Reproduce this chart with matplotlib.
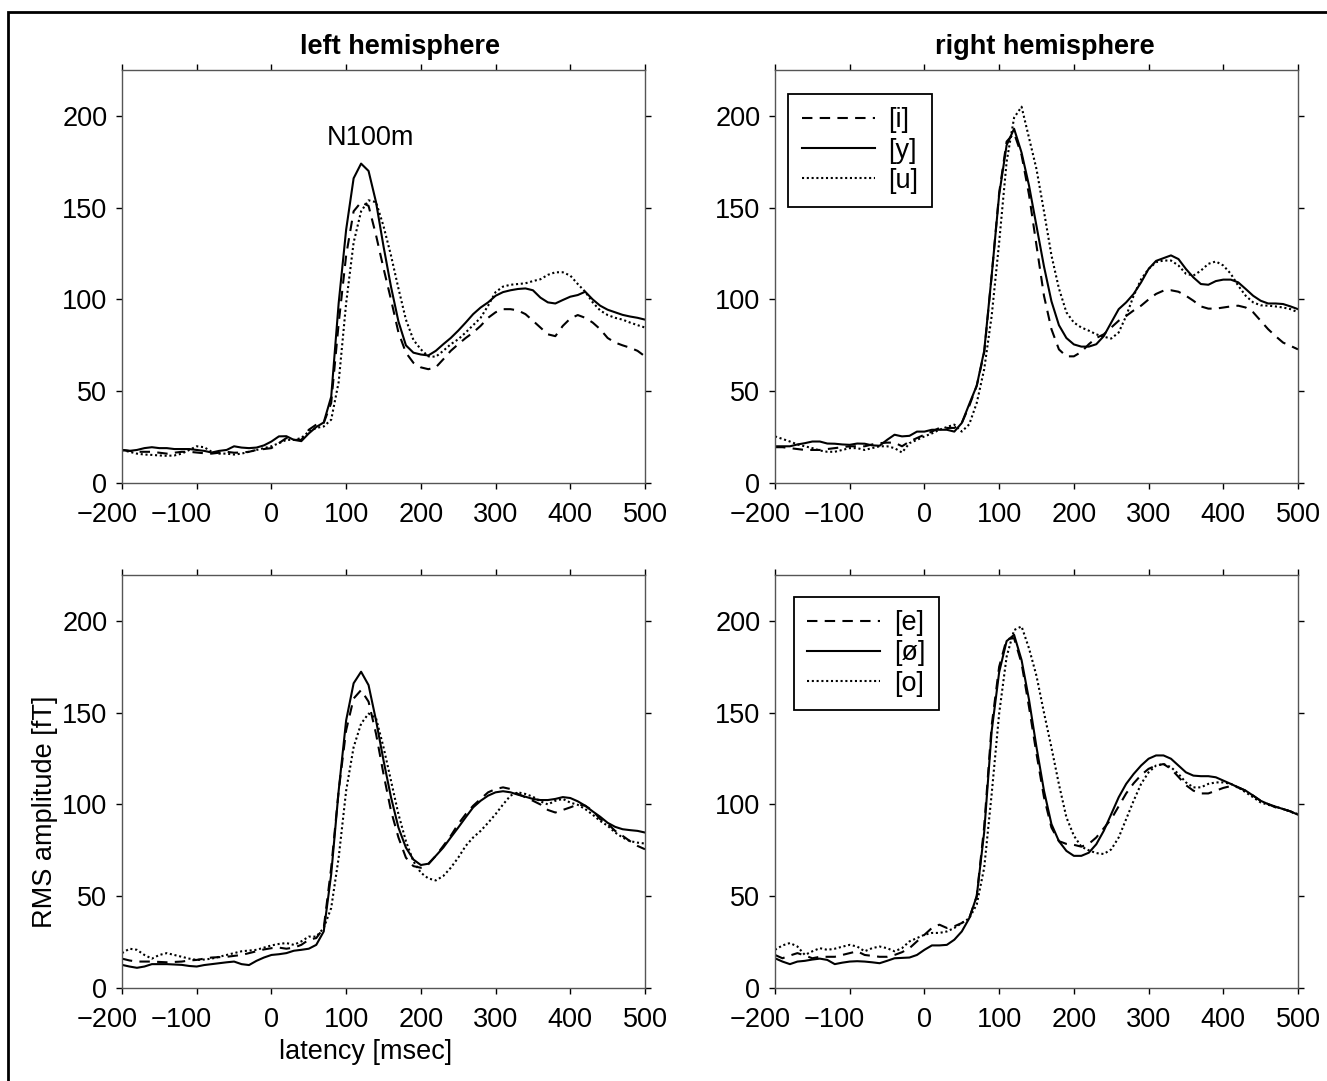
import numpy as np
import matplotlib
matplotlib.use('Agg')
import matplotlib.pyplot as plt
from matplotlib.patches import Rectangle
from matplotlib.transforms import ScaledTranslation

plt.rcParams['font.family'] = ['Liberation Sans', 'DejaVu Sans']

# latency grid (ms)
latency = np.arange(-200, 501, 10)

# ---- top row: [i] [y] [u] ----
lh_i = [18, 17.5, 17, 17, 17, 16.5, 16, 16.5, 17, 17,
        16.6, 16.2, 16, 16.5, 17, 16.5, 16.6, 17, 18, 18.5,
        19, 21.7, 24.5, 23.5, 23.5, 29, 31.8, 32.7, 43.6, 87,
        124, 148, 153, 151, 135, 117, 100, 82, 71, 65.5,
        63, 62, 63, 67.4, 72, 75.6, 79, 82, 85.6, 90,
        93, 94.7, 94.7, 94, 92, 88.4, 84.7, 81, 80, 85.6,
        89.6, 91.5, 90, 87.4, 83.8, 79, 76.5, 75, 73.7, 72,
        69]
lh_y = [18, 17.5, 18, 19, 19.5, 19, 19, 18.5, 18.5, 18.5,
        18, 17.5, 16.6, 17.5, 18, 20, 19.3, 19, 19.3, 20.5,
        22.6, 25.4, 25.5, 23.5, 22.8, 27, 30.5, 33, 47, 98,
        138, 166, 174, 170, 153, 129, 107, 88, 75, 71,
        70, 69.5, 72, 75.6, 79, 83, 87.4, 92, 95.6, 98.4,
        102, 104, 105, 105.7, 106, 105, 101, 98.4, 97.8, 99.7,
        101.5, 102.4, 104.2, 100, 96.6, 94.4, 93, 91.6, 90.7, 90,
        89]
lh_u = [18, 17, 16, 15.5, 15.3, 15, 14.8, 15, 16, 18,
        20, 19.5, 17, 16, 16, 15.5, 16, 17, 18, 19,
        20, 21.7, 23.5, 23.5, 24.5, 28, 30, 30.8, 34.5, 55,
        98, 131, 148, 154, 153, 140, 124, 106, 89, 78,
        72.8, 69, 68.8, 72, 75.6, 78.3, 82, 86, 90, 96.6,
        104, 107, 108, 108.4, 108.8, 110, 111, 113.4, 114.8, 114.8,
        113, 108.4, 104.2, 98.4, 94, 91.5, 90, 89, 87.4, 86,
        84.7]

rh_i = [19.5, 19.5, 19, 18.5, 18, 18, 18, 18.5, 19, 19.5,
        20, 20, 20, 21, 21.7, 22, 22, 20, 22.6, 24.5,
        26.3, 28, 30, 30, 30, 32.7, 42, 53, 71, 113,
        158, 186, 190.6, 178.7, 157, 129.4, 102, 83.8, 72.8, 69,
        69, 71.4, 75.6, 79, 81, 84.7, 88.4, 91, 94, 96.6,
        100, 103, 104.8, 105, 104.2, 102, 99.3, 96.2, 95, 95,
        95.6, 96.2, 96.6, 95.6, 93, 88.4, 83.8, 80, 76.5, 74.7,
        72.8]
rh_y = [20, 20, 20, 21, 21.7, 22.6, 22.6, 21.5, 21.4, 21,
        20.8, 21.5, 21.4, 20.5, 20.3, 23.5, 26.3, 25.4, 25.7, 28,
        28, 29, 29, 29, 28, 32.7, 43, 53, 72, 113,
        157, 184, 193, 180, 162, 140, 118, 99, 86, 79,
        75.5, 74.3, 74.3, 75.6, 80, 87.4, 94.7, 98.4, 103, 109.3,
        116.6, 121, 122.5, 124, 122, 116.6, 112, 108.4, 108, 110,
        110.8, 110.8, 109.3, 105.7, 102, 99.3, 97.8, 97.8, 97.5, 96.2,
        94.7]
rh_u = [25.4, 24, 22.6, 21, 20, 19, 17.7, 17, 17, 18,
        19, 19, 18, 19, 20, 20, 19, 16.6, 21.7, 23.5,
        25.4, 27, 29, 30.5, 31.8, 28, 32, 43.6, 62, 91,
        131, 175, 199, 205, 188, 171, 148, 124, 106, 93,
        87.4, 84.7, 83, 81, 79.7, 78.7, 82, 91, 102, 111,
        116.6, 120.3, 121.2, 121.2, 118.5, 114, 113, 115.7, 119.4, 120.7,
        118.5, 114, 107.5, 102, 98.4, 96.8, 96.6, 96.2, 95.6, 94.7,
        93]

# ---- bottom row: [e] [ø] [o] ----
lh_e = [16, 15, 14.4, 14.4, 14.4, 14.2, 14, 14.2, 14.4, 15,
        15.3, 16, 16.6, 16.8, 17, 17.5, 18, 19, 20, 21,
        21.7, 22, 21.4, 22, 23.5, 26.3, 27.2, 32.7, 65.5, 107.5,
        140.4, 157.7, 162.3, 156, 138.5, 116.6, 96.6, 82, 71, 66.4,
        65.5, 67.4, 72, 77.4, 82.9, 89.3, 94.7, 99.3, 103, 106.6,
        108.4, 109.3, 108.4, 105.7, 103.9, 102, 100, 97, 95.6, 97,
        98.4, 100, 99.3, 96.6, 92, 89.6, 85.6, 82.9, 80, 77.4,
        75.6]
lh_oe = [12.6, 11.7, 11, 11.7, 13, 13, 13, 12.8, 12.6, 12,
         11.7, 12.5, 13, 13.5, 14, 14.4, 13, 12.5, 14.8, 16.6,
         18, 18.4, 19, 20.3, 20.8, 21.4, 23.5, 30.8, 62, 107.5,
         145.8, 166, 172.3, 165, 145.8, 124, 104, 87.4, 76.5, 70,
         67, 67.7, 72, 76.5, 82, 87.4, 93, 98.4, 102, 104.8,
         106.6, 107.2, 106.6, 105.3, 104.2, 103, 102.4, 102.4, 103, 104,
         103.5, 101.7, 99.3, 96.2, 93.3, 90, 87.8, 86.5, 86, 85.6,
         84.7]
lh_o = [19, 21.4, 20.8, 18, 16, 18, 19, 18, 17, 16,
        15.3, 15.5, 16, 17, 18, 19, 20, 20.4, 20.8, 22,
        23.2, 24, 24.5, 23.5, 25.4, 28, 28, 32.7, 43.6, 71,
        107.5, 131.2, 144, 149.5, 147, 131.2, 113, 94.7, 80, 69,
        62.8, 59.7, 58.6, 61, 65.5, 71, 77.4, 82, 85.6, 90,
        94.7, 100, 104.8, 106.6, 105.7, 104.2, 101.7, 100, 102, 103,
        101, 99.8, 97.5, 94.4, 91, 88.4, 84.7, 82, 80, 79.2,
        78.7]

rh_e = [18, 16.2, 17.7, 19, 17.7, 16.2, 17, 17, 17, 18,
        19, 20, 18, 17.5, 17, 17, 18, 19.5, 21.7, 25.4,
        29, 32.7, 34.5, 32.7, 33.6, 35.4, 38, 50, 88, 143,
        175, 190, 190.6, 176.9, 153, 127.6, 104, 87.4, 80, 78.5,
        78, 77, 78.5, 82, 87, 92, 99, 106, 111.5, 116,
        119.4, 121.2, 122, 119.4, 115, 110.5, 107.5, 106, 106, 107.5,
        109, 110, 109.3, 107.5, 104.8, 102, 100.2, 98.4, 97.5, 96.2,
        93.8]
rh_oe = [16.2, 14.4, 13, 14.4, 14.8, 15.5, 16, 15.3, 13, 13.8,
         14.4, 14.6, 14.4, 14, 13.5, 14.8, 16.2, 16.4, 16.6, 18,
         20.8, 23.2, 23.2, 23.5, 26.3, 30.8, 38, 50, 85, 140,
         172, 189, 192.4, 178.7, 157, 131.2, 107.5, 89.3, 80, 74.7,
         72, 72, 73.7, 78.3, 85.6, 94.7, 103.9, 111.2, 116.6, 121.2,
         124.9, 126.7, 126.7, 124.9, 121.2, 117.5, 115.7, 115.4, 115.4, 114.8,
         113, 111.2, 109.3, 107.5, 104.8, 102, 100.2, 98.8, 97.5, 96.2,
         94.4]
rh_o = [20.8, 23.2, 24.5, 22.6, 18, 20, 21.7, 20.8, 21.4, 22.5,
        23.5, 22.6, 20, 21.7, 22.6, 21.7, 20, 21.7, 25.4, 27.2,
        29, 30, 30, 30.8, 32.7, 35.4, 38, 45.5, 65.5, 105.7,
        149.5, 180.5, 195, 197, 185, 170, 150, 131, 111, 93,
        83, 77, 75, 73.5, 73, 75.5, 82, 92, 102, 111.2,
        117.5, 121.2, 122, 120.3, 116.6, 112, 109.3, 109.3, 111.2, 112,
        112, 111.2, 109.3, 106.6, 103.9, 101.1, 99.8, 98.8, 97.5, 96.2,
        94.7]

top_labels = ['[i]', '[y]', '[u]']
bottom_labels = ['[e]', '[ø]', '[o]']
styles = [(0, (5, 3.5)), '-', (0, (1, 1.3))]
FS = 19.5

W, H = 1327, 1081
fig = plt.figure(figsize=(W / 100, H / 100), dpi=100)


def box(l, t, r, b):
    return [l / W, 1 - b / H, (r - l) / W, (b - t) / H]


ax_tl = fig.add_axes(box(122, 70, 645, 483))
ax_tr = fig.add_axes(box(775, 70, 1298, 483))
ax_bl = fig.add_axes(box(122, 575, 645, 988))
ax_br = fig.add_axes(box(775, 575, 1298, 988))

panels = [
    (ax_tl, [lh_i, lh_y, lh_u], top_labels, None),
    (ax_tr, [rh_i, rh_y, rh_u], top_labels, (0.025, 0.942)),
    (ax_bl, [lh_e, lh_oe, lh_o], bottom_labels, None),
    (ax_br, [rh_e, rh_oe, rh_o], bottom_labels, (0.036, 0.947)),
]

shift = ScaledTranslation(-15 / 100, 0, fig.dpi_scale_trans)

for ax, series, labels, leg_pos in panels:
    lines = []
    for vals, ls in zip(series, styles):
        ln, = ax.plot(latency, vals, color='black', linestyle=ls, linewidth=1.5,
                      solid_joinstyle='round', dash_joinstyle='round')
        lines.append(ln)
    ax.set_xlim(-200, 500)
    ax.set_ylim(0, 225)
    ax.set_xticks(np.arange(-200, 501, 100))
    ax.set_yticks(np.arange(0, 201, 50))
    ax.tick_params(direction='out', top=True, right=True, labeltop=False,
                   labelright=False, length=4, width=1, labelsize=FS)
    ax.tick_params(axis='x', pad=10)
    ax.tick_params(axis='y', pad=6.5)
    for sp in ax.spines.values():
        sp.set_color('#555555')
        sp.set_linewidth(1)
    # negative tick labels sit a little left of their ticks in the original
    for loc, tick in zip(ax.get_xticks(), ax.xaxis.get_major_ticks()):
        if loc < 0:
            tick.label1.set_transform(tick.label1.get_transform() + shift)
    if leg_pos is not None:
        leg = ax.legend(lines, labels, loc='upper left', bbox_to_anchor=leg_pos,
                        borderaxespad=0, fontsize=FS, handlelength=2.7,
                        handletextpad=0.5, labelspacing=0.15, borderpad=0.5,
                        fancybox=False, framealpha=1, edgecolor='black')
        leg.get_frame().set_linewidth(1.3)

ax_tl.text(133, 184, 'N100m', ha='center', va='baseline', fontsize=FS)

fig.text(400 / W, 1 - 54 / H, 'left hemisphere', ha='center', va='baseline',
         fontsize=FS, fontweight='bold')
fig.text(1045 / W, 1 - 54 / H, 'right hemisphere', ha='center', va='baseline',
         fontsize=FS, fontweight='bold')
fig.text(45 / W, 1 - 812 / H, 'RMS amplitude [fT]', rotation=90, ha='center',
         va='center', fontsize=FS)
fig.text(366 / W, 1 - 1052 / H, 'latency [msec]', ha='center', va='center',
         fontsize=FS)

# outer frame of the figure
fig.patches.append(Rectangle((8 / W, -0.05), 1.2, 1.05 - 12 / H, transform=fig.transFigure,
                             fill=False, edgecolor='black', linewidth=2, clip_on=False))

fig.savefig('out.png', dpi=100)
